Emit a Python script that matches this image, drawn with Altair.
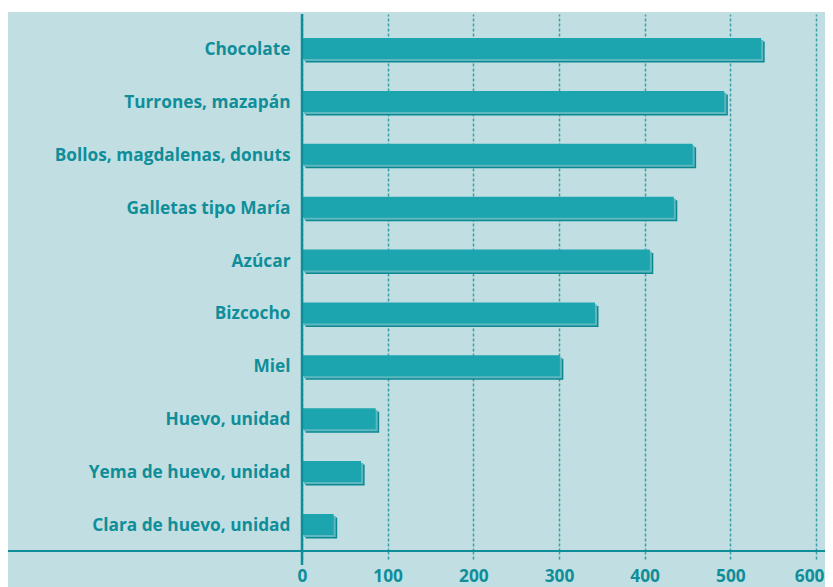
import altair as alt
import pandas as pd

categories = ["Chocolate", "Turrones, mazapán", "Bollos, magdalenas, donuts",
              "Galletas tipo María", "Azúcar", "Bizcocho", "Miel",
              "Huevo, unidad", "Yema de huevo, unidad", "Clara de huevo, unidad"]
values = [536, 493, 456, 434, 406, 342, 301, 86, 69, 37]
ticks = [0, 100, 200, 300, 400, 500, 600]

df = pd.DataFrame({"cat": categories, "val": values})
one = pd.DataFrame({"a": [0]})

TEXT = "#0f8e99"
BAR = "#1ca4af"
LIGHT = "#5fb7bf"
DARK = "#0b8993"
BG = "#c1dfe3"
W, H = 523, 537
PADL, PADT, PADB = 294, 6, 36
FS = 17.3

xs = alt.Scale(domain=[0, 610.5], nice=False, zero=True)
ys = alt.Scale(paddingInner=0.603, paddingOuter=0.378, align=0.6)

last_tick = f"datum.value == {ticks[-1]}"
xenc = alt.X("val:Q", scale=xs, axis=alt.Axis(
    values=ticks, title=None, domain=False, grid=True,
    gridColor="#3a9fa9", gridDash=[3, 2], gridWidth=1.5,
    ticks=True, tickColor="#3a9fa9", tickDash=[3, 2], tickWidth=1.5, tickSize=10,
    labelPadding=6, labelFont="Open Sans", labelFontWeight="bold",
    labelFontSize=FS, labelColor=TEXT,
    labelAlign={"condition": {"test": last_tick, "value": "right"}, "value": "center"},
    labelOffset={"condition": {"test": last_tick, "value": 8}, "value": 0}))
yenc = alt.Y("cat:N", sort=categories, scale=ys, axis=alt.Axis(
    title=None, domain=False, ticks=False, grid=False, labelPadding=12,
    labelOffset=1.5,
    labelFont="Open Sans", labelFontWeight="bold", labelFontSize=FS,
    labelColor=TEXT, labelLimit=400))

base = alt.Chart(df)
shadow_dark = base.mark_bar(color=DARK, xOffset=3.5, yOffset=3.5).encode(x=xenc, y=yenc)
shadow_light = base.mark_bar(color=LIGHT, xOffset=2, yOffset=2).encode(x="val:Q", y=alt.Y("cat:N", sort=categories))
main = base.mark_bar(color=BAR).encode(x="val:Q", y=alt.Y("cat:N", sort=categories))

white_strip = alt.Chart(one).mark_rect(color="white").encode(
    x=alt.value(-PADL), x2=alt.value(W), y=alt.value(-PADT), y2=alt.value(-2))
hline = alt.Chart(one).mark_rule(color=TEXT, strokeWidth=2).encode(
    x=alt.value(-PADL - 1), x2=alt.value(W), y=alt.value(H))
vline = alt.Chart(pd.DataFrame({"z": [0]})).mark_rule(color=TEXT, strokeWidth=2.5).encode(
    x=alt.X("z:Q", scale=xs), y=alt.value(0), y2=alt.value(H + 14))

chart = alt.layer(shadow_dark, shadow_light, main, white_strip, hline, vline).properties(
    width=W, height=H,
    autosize=alt.AutoSizeParams(type="none"),
    padding={"left": PADL, "top": PADT, "right": 0, "bottom": PADB},
).configure(background=BG).configure_view(stroke=None)

chart.save("out.html", embed_options={"renderer": "svg", "actions": False})
